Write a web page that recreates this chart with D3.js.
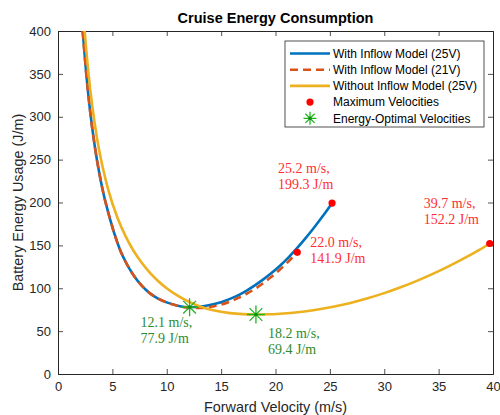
<!DOCTYPE html>
<html>
<head>
<meta charset="utf-8">
<script src="https://cdn.jsdelivr.net/npm/d3@7"></script>
<style>
  html, body { margin: 0; padding: 0; background: #fff; }
  svg { display: block; }
</style>
</head>
<body>
<svg id="chart" width="500" height="415"></svg>
<script>
// Forward velocity (m/s) and cruise energy (J/m) for each model
const inflow25X = [2.27, 2.6, 2.94, 3.4, 3.8, 4.17, 4.78, 5.2, 5.7, 6.25, 6.93, 7.7, 8.46, 9.2, 9.99, 11.0, 12.1, 13.2, 14.28, 15.0, 15.82, 16.6, 17.35, 18.1, 18.88, 19.6, 20.41, 21.2, 22.0, 22.75, 23.5, 24.3, 25.2];
const inflow25Y = [400, 350, 308, 264, 234, 211, 181, 163, 145, 130, 115.5, 103, 94, 88, 83.5, 79.7, 77.9, 78.8, 81.3, 83.8, 87.6, 92, 97.3, 103.3, 110.3, 117.4, 126.3, 136.1, 147.1, 158.2, 170, 183.3, 199.3];

const inflow21X = [2.27, 2.6, 2.94, 3.4, 3.8, 4.17, 4.78, 5.2, 5.7, 6.25, 6.93, 7.7, 8.46, 9.2, 9.99, 11.0, 12.1, 13.2, 14.28, 15.0, 15.82, 16.6, 17.35, 18.1, 18.88, 19.6, 20.41, 21.2, 22.0];
const inflow21Y = [400, 350, 308, 264, 234, 211, 181, 163, 145, 130, 115.5, 103, 94, 88, 83.5, 79.5, 77.1, 76.9, 78.8, 81, 84.5, 88.7, 93.6, 99.2, 106, 113, 121.9, 131.4, 141.9];

const noInflowX = [2.45, 2.8, 3.13, 3.6, 4.11, 4.63, 5.46, 6.2, 6.93, 7.7, 8.46, 9.2, 9.99, 11.0, 12.1, 13.06, 14.28, 15.82, 17.0, 18.2, 19.3, 20.41, 22.25, 23.48, 25.3, 26.8, 28.39, 30.0, 31.45, 33.0, 34.51, 36.0, 37.58, 38.7, 39.7];
const noInflowY = [400, 351, 314.6, 274, 241, 214.5, 182.5, 161, 144, 129.7, 118, 108.5, 100, 91.3, 83.8, 78.8, 74.3, 71, 69.8, 69.4, 69.6, 70.3, 72.3, 74.4, 78.4, 82.6, 88, 94.3, 100.8, 108.6, 117, 126.1, 136.5, 144.5, 152.2];

// Maximum velocities (red dots) and energy-optimal velocities (green stars)
const maxVelX = [25.2, 22.0, 39.7];
const maxVelY = [199.3, 141.9, 152.2];
const optVelX = [12.1, 18.2];
const optVelY = [77.9, 69.4];

const xTicks = [0, 5, 10, 15, 20, 25, 30, 35, 40];
const yTicks = [0, 50, 100, 150, 200, 250, 300, 350, 400];

const legendLabels = ["With Inflow Model (25V)", "With Inflow Model (21V)", "Without Inflow Model (25V)", "Maximum Velocities", "Energy-Optimal Velocities"];

const colBlue = "#0072BD", colRed = "#D95319", colGold = "#EDB120";
const colDot = "#ff0000", colStar = "#1fb51f", colStarText = "#2e8b2e", colDotText = "#ff3030";
const axisCol = "#262626";

const svg = d3.select("#chart");
const plotL = 58, plotR = 493, plotT = 31, plotB = 374;
const x = d3.scaleLinear().domain([0, 40]).range([plotL, plotR]);
const y = d3.scaleLinear().domain([0, 400]).range([plotB, plotT]);

const sans = "'Liberation Sans', Arial, Helvetica, sans-serif";
const serif = "'Liberation Serif', 'Times New Roman', serif";

// axes with inward ticks on all four sides
const tickLen = 5;
const gx = svg.append("g").attr("transform", `translate(0,${plotB})`)
  .call(d3.axisBottom(x).tickValues(xTicks).tickSize(-tickLen).tickPadding(8).tickFormat(d3.format("d")));
const gxTop = svg.append("g").attr("transform", `translate(0,${plotT})`)
  .call(d3.axisTop(x).tickValues(xTicks).tickSize(-tickLen).tickFormat(""));
const gy = svg.append("g").attr("transform", `translate(${plotL},0)`)
  .call(d3.axisLeft(y).tickValues(yTicks).tickSize(-tickLen).tickPadding(7).tickFormat(d3.format("d")));
const gyRight = svg.append("g").attr("transform", `translate(${plotR},0)`)
  .call(d3.axisRight(y).tickValues(yTicks).tickSize(-tickLen).tickFormat(""));

[gx, gxTop, gy, gyRight].forEach(g => {
  g.select(".domain").attr("stroke", axisCol).attr("stroke-width", 1);
  g.selectAll(".tick line").attr("stroke", axisCol).attr("stroke-width", 0.8);
  g.selectAll(".tick text").attr("fill", axisCol).attr("font-family", sans).attr("font-size", 13);
});
// end ticks on the box edge are not needed on the mirrored sides
gxTop.selectAll(".tick").filter(d => d === 0 || d === 40).remove();
gyRight.selectAll(".tick").filter(d => d === 0 || d === 400).remove();

// curves
const line = d3.line().x(d => x(d[0])).y(d => y(d[1])).curve(d3.curveMonotoneX);
const zip = (a, b) => a.map((v, i) => [v, b[i]]);

svg.append("path").datum(zip(inflow25X, inflow25Y)).attr("d", line)
  .attr("fill", "none").attr("stroke", colBlue).attr("stroke-width", 2.6);
svg.append("path").datum(zip(inflow21X, inflow21Y)).attr("d", line)
  .attr("fill", "none").attr("stroke", colRed).attr("stroke-width", 2.6).attr("stroke-dasharray", "8,5");
svg.append("path").datum(zip(noInflowX, noInflowY)).attr("d", line)
  .attr("fill", "none").attr("stroke", colGold).attr("stroke-width", 2.6);

// star marker (plus + cross)
function star(g, cx, cy, r) {
  const s = r * Math.SQRT1_2;
  const p = `M${cx - r},${cy}L${cx + r},${cy}M${cx},${cy - r}L${cx},${cy + r}` +
            `M${cx - s},${cy - s}L${cx + s},${cy + s}M${cx - s},${cy + s}L${cx + s},${cy - s}`;
  g.append("path").attr("d", p).attr("stroke", colStar).attr("stroke-width", 1.3).attr("fill", "none");
  g.append("circle").attr("cx", cx).attr("cy", cy).attr("r", 1.6).attr("fill", "#0f8a0f");
}

// maximum-velocity dots
svg.append("g").selectAll("circle").data(zip(maxVelX, maxVelY)).join("circle")
  .attr("cx", d => x(d[0])).attr("cy", d => y(d[1])).attr("r", 3.6).attr("fill", colDot);

// energy-optimal stars
const starG = svg.append("g");
zip(optVelX, optVelY).forEach(d => star(starG, x(d[0]), y(d[1]), 9));

// value annotations
const fmt = d3.format(".1f");
const maxOffsets = [[-54, -30], [13, -5], [-66, -35]];
const optOffsets = [[-49, 20], [12, 24]];
function annotate(px, py, vx, vy, col) {
  const t = svg.append("text").attr("font-family", serif).attr("font-size", 14).attr("fill", col);
  t.append("tspan").attr("x", px).attr("y", py).text(`${fmt(vx)} m/s,`);
  t.append("tspan").attr("x", px).attr("y", py + 16).text(`${fmt(vy)} J/m`);
}
maxVelX.forEach((vx, i) => annotate(x(vx) + maxOffsets[i][0], y(maxVelY[i]) + maxOffsets[i][1], vx, maxVelY[i], colDotText));
optVelX.forEach((vx, i) => annotate(x(vx) + optOffsets[i][0], y(optVelY[i]) + optOffsets[i][1], vx, optVelY[i], colStarText));

// titles
svg.append("text").attr("x", (plotL + plotR) / 2).attr("y", 23).attr("text-anchor", "middle")
  .attr("font-family", sans).attr("font-size", 14.5).attr("font-weight", "bold").attr("fill", "#000")
  .text("Cruise Energy Consumption");
svg.append("text").attr("x", (plotL + plotR) / 2).attr("y", 412).attr("text-anchor", "middle")
  .attr("font-family", sans).attr("font-size", 14.4).attr("fill", axisCol)
  .text("Forward Velocity (m/s)");
svg.append("text").attr("transform", `translate(23,${(plotT + plotB) / 2}) rotate(-90)`).attr("text-anchor", "middle")
  .attr("font-family", sans).attr("font-size", 14.4).attr("fill", axisCol)
  .text("Battery Energy Usage (J/m)");

// legend
const lg = svg.append("g").attr("transform", "translate(285,41)");
lg.append("rect").attr("width", 199).attr("height", 86).attr("fill", "#fff")
  .attr("stroke", axisCol).attr("stroke-width", 0.8);
const rowY = i => 12.5 + i * 16.2;
const sampleStyles = [
  { c: colBlue, dash: null }, { c: colRed, dash: "8,5" }, { c: colGold, dash: null }
];
sampleStyles.forEach((s, i) => {
  lg.append("line").attr("x1", 5).attr("x2", 45).attr("y1", rowY(i)).attr("y2", rowY(i))
    .attr("stroke", s.c).attr("stroke-width", 2.6).attr("stroke-dasharray", s.dash);
});
lg.append("circle").attr("cx", 25).attr("cy", rowY(3)).attr("r", 3.6).attr("fill", colDot);
star(lg, 25, rowY(4), 6.5);
legendLabels.forEach((t, i) => {
  lg.append("text").attr("x", 48).attr("y", rowY(i)).attr("dy", "0.36em")
    .attr("font-family", sans).attr("font-size", 12).attr("fill", "#000").text(t);
});
</script>
</body>
</html>
